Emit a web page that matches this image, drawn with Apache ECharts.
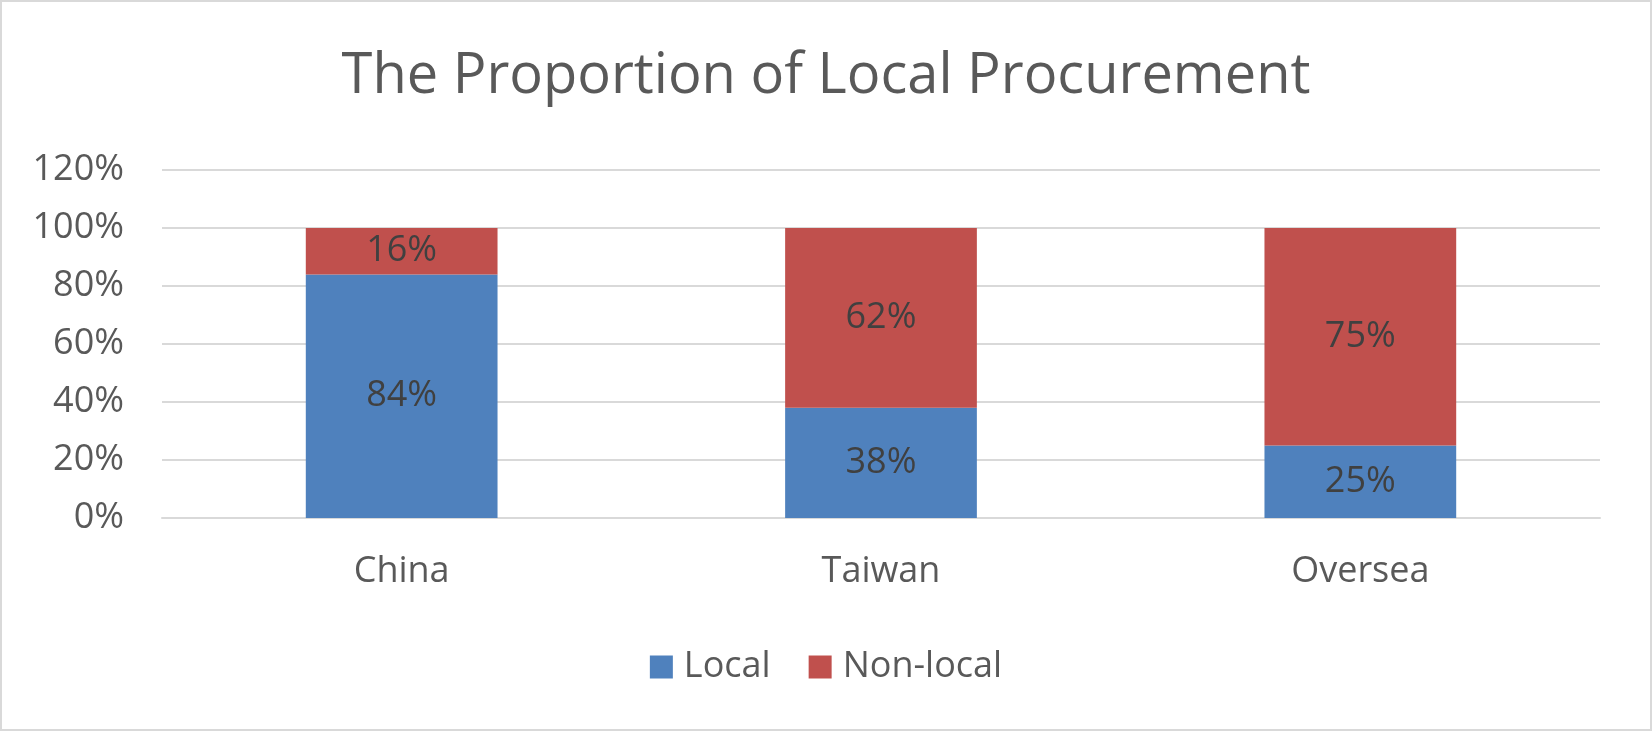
<!DOCTYPE html>
<html>
<head>
<meta charset="utf-8">
<script src="https://cdn.jsdelivr.net/npm/echarts@6/dist/echarts.min.js"></script>
<style>
html,body{margin:0;padding:0;background:#fff;}
#chart{width:1652px;height:731px;box-sizing:border-box;border:2px solid #d9d9d9;}
</style>
</head>
<body>
<div id="chart"></div>
<script>
const categories = ['China', 'Taiwan', 'Oversea'];
const localValues = [84, 38, 25];
const nonLocalValues = [16, 62, 75];
const seriesNames = ['Local', 'Non-local'];
const titleText = 'The Proportion of Local Procurement';

const chart = echarts.init(document.getElementById('chart'), null, {renderer: 'canvas'});
const font = '"Open Sans", "Noto Sans", sans-serif';
const labelStyle = {
  show: true, position: 'inside', color: '#404040', fontSize: 36, fontFamily: font,
  formatter: p => p.value + '%'
};
chart.setOption({
  animation: false,
  title: {
    text: titleText, left: 'center', top: 42,
    textStyle: {fontFamily: font, fontSize: 56, fontWeight: 'normal', color: '#595959'}
  },
  legend: {
    data: seriesNames, left: 'center', top: 642,
    itemWidth: 23, itemHeight: 23, itemGap: 38, icon: 'rect',
    textStyle: {fontFamily: font, fontSize: 36, color: '#595959', padding: [0, 0, 0, 6]}
  },
  grid: {left: 160, right: 50, top: 168, bottom: 211, containLabel: false},
  xAxis: {
    type: 'category', data: categories,
    axisLine: {show: true, lineStyle: {color: '#d9d9d9', width: 2}},
    axisTick: {show: false},
    axisLabel: {fontFamily: font, fontSize: 36, color: '#595959', margin: 36}
  },
  yAxis: {
    type: 'value', min: 0, max: 120, interval: 20,
    axisLine: {show: false}, axisTick: {show: false},
    splitLine: {lineStyle: {color: '#d9d9d9', width: 2}},
    axisLabel: {fontFamily: font, fontSize: 36, color: '#595959', margin: 38, formatter: v => v + '%'}
  },
  series: [
    {name: seriesNames[0], type: 'bar', stack: 'total', data: localValues, barWidth: '40%',
     itemStyle: {color: '#4f81bd'}, label: labelStyle},
    {name: seriesNames[1], type: 'bar', stack: 'total', data: nonLocalValues, barWidth: '40%',
     itemStyle: {color: '#c0504d'}, label: labelStyle}
  ]
});
</script>
</body>
</html>
